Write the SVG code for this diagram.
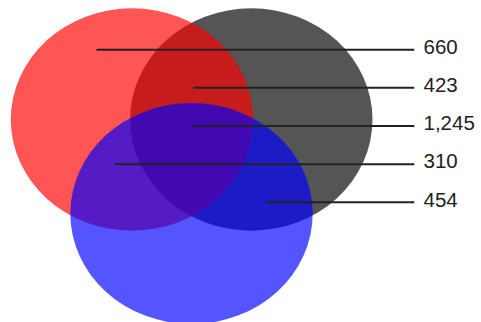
<svg xmlns="http://www.w3.org/2000/svg" width="481" height="322" viewBox="0 0 481 322">
  <style>
    .set { fill-opacity: 0.667; stroke: none; }
    .lead { stroke: #222222; stroke-width: 2; fill: none; }
    .lbl { font-family: "Liberation Sans", Arial, sans-serif; font-size: 20.5px; fill: #222222; }
  </style>
  <rect width="481" height="322" fill="#ffffff"/>
  <g id="set-gray"><ellipse class="set" cx="251.3" cy="119.5" rx="121.2" ry="111.2" fill="#000000"/></g>
  <g id="set-red"><ellipse class="set" cx="132" cy="119.5" rx="121.2" ry="111.2" fill="#ff0000"/></g>
  <g id="set-blue"><ellipse class="set" cx="191.5" cy="213.5" rx="121.2" ry="110.5" fill="#0000ff"/></g>
  <g id="connectors">
    <line class="lead" x1="96.5" y1="49.7" x2="414.3" y2="49.7"/>
    <line class="lead" x1="193.3" y1="87.85" x2="414.3" y2="87.85"/>
    <line class="lead" x1="192.7" y1="126" x2="414.3" y2="126"/>
    <line class="lead" x1="115" y1="164.15" x2="414.3" y2="164.15"/>
    <line class="lead" x1="266.7" y1="202.3" x2="414.3" y2="202.3"/>
  </g>
  <g id="labels">
    <text class="lbl" x="423.5" y="54">660</text>
    <text class="lbl" x="423.5" y="92.15">423</text>
    <text class="lbl" x="423.5" y="130.3">1,245</text>
    <text class="lbl" x="423.5" y="168.45">310</text>
    <text class="lbl" x="423.5" y="206.6">454</text>
  </g>
</svg>
